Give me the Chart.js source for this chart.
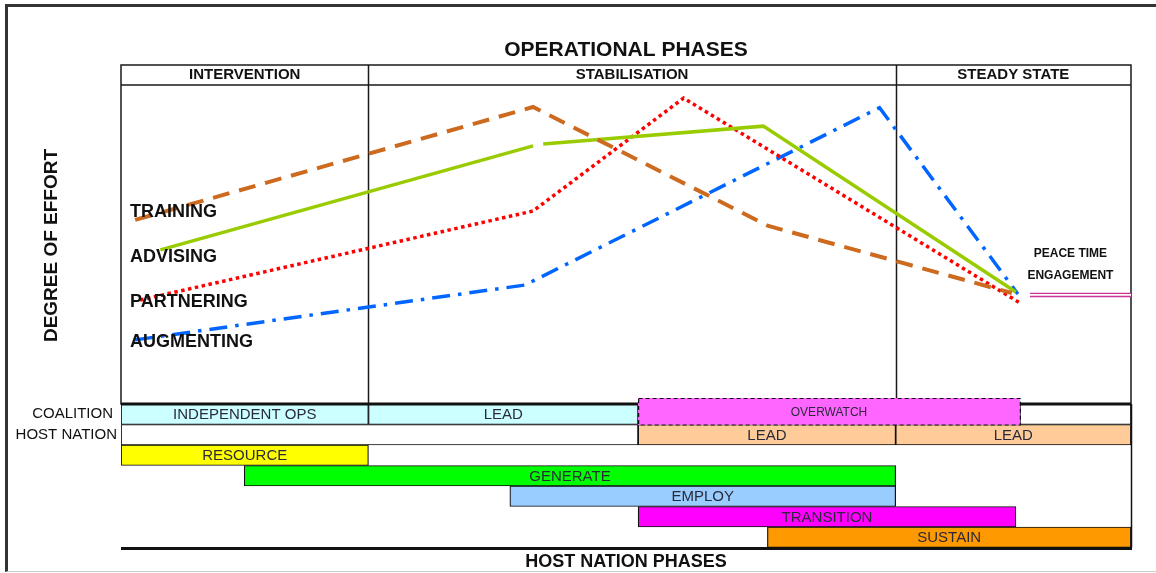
<!DOCTYPE html>
<html>
<head>
<meta charset="utf-8">
<script src="https://cdn.jsdelivr.net/npm/chart.js@4.4.0/dist/chart.umd.min.js"></script>
<style>
  html, body { margin: 0; padding: 0; background: #fff; }
  body { width: 1156px; height: 573px; position: relative; overflow: hidden; }
  #frame { position: absolute; left: 5px; top: 4px; width: 1170px; height: 564px;
           border-left: 3px solid #333; border-top: 3px solid #333; border-bottom: 1px solid #ccc; }
  #effort { position: absolute; left: 0; top: 0; }
  #phases { position: absolute; left: 0; top: 398px; }
</style>
</head>
<body>
<div id="frame"></div>
<canvas id="effort" width="1156" height="410"></canvas>
<canvas id="phases" width="1156" height="175"></canvas>
<script>
// operational phases, x in % of the campaign
const opPhases = ['INTERVENTION', 'STABILISATION', 'STEADY STATE'];
const opBounds = [0, 24.5, 76.7, 100];

// degree of effort (0-100)
const trainingX = [1.4, 40.8, 64.1, 88.2];
const trainingY = [57.7, 93.1, 55.8, 34.8];
const advisingX = [3.9, 40.8, 41.3, 41.8, 63.6, 88.6];
const advisingY = [48.3, 80.9, null, 81.5, 87.1, 35.1];
const partneringX = [1.9, 40.8, 55.7, 89.0];
const partneringY = [32.6, 60.5, 95.9, 31.7];
const augmentingX = [1.4, 40.0, 75.1, 88.8];
const augmentingY = [20.1, 37.3, 92.9, 34.5];
const peaceX = [90, 100];
const peaceY = [34.2, 34.2];

// host nation phases
const rowNames = ['COALITION', 'HOST NATION', 'RESOURCE', 'GENERATE', 'EMPLOY', 'TRANSITION', 'SUSTAIN'];
const barRow   = [0, 0, 0, 0, 1, 1, 1, 2, 3, 4, 5, 6];
const barStart = [0, 24.5, 51.2, 89.0, 0, 51.2, 76.7, 0, 12.2, 38.5, 51.2, 64.0];
const barEnd   = [24.5, 51.2, 89.0, 100, 51.2, 76.7, 100, 24.5, 76.7, 76.7, 88.6, 100];
const barText  = ['INDEPENDENT OPS', 'LEAD', 'OVERWATCH', '', '', 'LEAD', 'LEAD',
                  'RESOURCE', 'GENERATE', 'EMPLOY', 'TRANSITION', 'SUSTAIN'];

const barFill = ['#ccffff', '#ccffff', '#ff66ff', '#ffffff', '#ffffff', '#ffcc99', '#ffcc99',
                 '#ffff00', '#00ff00', '#99ccff', '#ff00ff', '#ff9900'];
const OVERWATCH = 2;
const FONT = '"Liberation Sans", Arial, sans-serif';

function pts(xs, ys) {
    return xs.map((x, i) => ({ x: x, y: ys[i] }));
}

// label spots for the effort lines (data units)
const lineLabelAt = [[0.9, 60.2], [0.9, 46.1], [0.9, 32.0], [0.9, 19.4]];

const effortFrame = {
    id: 'effortFrame',
    beforeDatasetsDraw(chart) {
        const { ctx, chartArea: a, scales: { x } } = chart;
        const headTop = a.top - 20;
        ctx.save();
        ctx.strokeStyle = '#1a1a1a';
        ctx.lineWidth = 1.5;
        ctx.strokeRect(a.left, headTop, a.right - a.left, a.bottom - headTop);
        ctx.beginPath();
        ctx.moveTo(a.left, a.top);
        ctx.lineTo(a.right, a.top);
        opBounds.slice(1, -1).forEach(b => {
            const px = Math.round(x.getPixelForValue(b)) + 0.5;
            ctx.moveTo(px, headTop);
            ctx.lineTo(px, a.bottom);
        });
        ctx.stroke();

        ctx.fillStyle = '#111';
        ctx.textAlign = 'center';
        ctx.textBaseline = 'middle';
        ctx.font = 'bold 21px ' + FONT;
        ctx.fillText('OPERATIONAL PHASES', (a.left + a.right) / 2, headTop - 15);
        ctx.font = 'bold 15px ' + FONT;
        opPhases.forEach((p, i) => {
            const cx = (x.getPixelForValue(opBounds[i]) + x.getPixelForValue(opBounds[i + 1])) / 2;
            ctx.fillText(p, cx, headTop + 10);
        });

        ctx.save();
        ctx.translate(52, (a.top + a.bottom) / 2 + 1);
        ctx.rotate(-Math.PI / 2);
        ctx.font = 'bold 19px ' + FONT;
        ctx.fillText('DEGREE OF EFFORT', 0, 0);
        ctx.restore();
        ctx.restore();
    },
    afterDatasetsDraw(chart) {
        const { ctx, scales: { x, y } } = chart;
        ctx.save();
        ctx.fillStyle = '#111';
        ctx.textBaseline = 'middle';
        ctx.textAlign = 'left';
        ctx.font = 'bold 18px ' + FONT;
        lineLabelAt.forEach((p, i) => {
            ctx.fillText(chart.data.datasets[i].label, x.getPixelForValue(p[0]), y.getPixelForValue(p[1]));
        });
        ctx.textAlign = 'center';
        ctx.font = 'bold 12px ' + FONT;
        ctx.fillText('PEACE TIME', x.getPixelForValue(94), y.getPixelForValue(47.0));
        ctx.fillText('ENGAGEMENT', x.getPixelForValue(94), y.getPixelForValue(40.1));
        ctx.restore();
    }
};

// datasets are painted last-to-first, so the white core comes before the magenta rail
new Chart(document.getElementById('effort'), {
    type: 'line',
    data: {
        datasets: [
            { label: 'TRAINING', data: pts(trainingX, trainingY), borderColor: '#cc6a1f', borderWidth: 4, borderDash: [17, 10] },
            { label: 'ADVISING', data: pts(advisingX, advisingY), borderColor: '#99cc00', borderWidth: 3.5 },
            { label: 'PARTNERING', data: pts(partneringX, partneringY), borderColor: '#ff0000', borderWidth: 3.5, borderDash: [3.5, 3.5] },
            { label: 'AUGMENTING', data: pts(augmentingX, augmentingY), borderColor: '#0066ff', borderWidth: 3.5, borderDash: [18, 8, 3.5, 8] },
            { label: 'PEACE TIME inner', data: pts(peaceX, peaceY), borderColor: '#ffffff', borderWidth: 1.6 },
            { label: 'PEACE TIME', data: pts(peaceX, peaceY), borderColor: '#cc3399', borderWidth: 4.5 }
        ]
    },
    options: {
        responsive: false,
        animation: false,
        spanGaps: false,
        elements: { point: { radius: 0 }, line: { tension: 0, fill: false } },
        layout: { padding: { left: 121, right: 25, top: 85, bottom: 6 } },
        scales: {
            x: { type: 'linear', min: 0, max: 100, display: false },
            y: { type: 'linear', min: 0, max: 100, display: false }
        },
        plugins: { legend: { display: false }, tooltip: { enabled: false } }
    },
    plugins: [effortFrame]
});

const phaseFrame = {
    id: 'phaseFrame',
    afterDatasetsDraw(chart) {
        const { ctx, chartArea: a, scales: { y } } = chart;
        ctx.save();
        ctx.strokeStyle = '#111';
        ctx.lineWidth = 3;
        ctx.beginPath();
        ctx.moveTo(a.left, a.top);
        ctx.lineTo(a.right, a.top);
        ctx.moveTo(a.left, a.bottom + 1);
        ctx.lineTo(a.right + 1, a.bottom + 1);
        ctx.stroke();
        ctx.lineWidth = 1.5;
        ctx.beginPath();
        ctx.moveTo(a.right + 0.5, a.top);
        ctx.lineTo(a.right + 0.5, a.bottom);
        ctx.stroke();

        // overwatch sits over the frame line with a dashed border
        const ow = chart.getDatasetMeta(OVERWATCH).data[barRow[OVERWATCH]];
        const l = Math.min(ow.x, ow.base), r = Math.max(ow.x, ow.base);
        const t = ow.y - ow.height / 2 - 6, b = ow.y + ow.height / 2;
        ctx.fillStyle = barFill[OVERWATCH];
        ctx.fillRect(l, t, r - l, b - t);
        ctx.setLineDash([4, 3]);
        ctx.lineWidth = 1.2;
        ctx.strokeRect(l + 0.5, t + 0.5, r - l, b - t);
        ctx.setLineDash([]);

        ctx.textAlign = 'center';
        ctx.textBaseline = 'middle';
        chart.data.datasets.forEach((ds, i) => {
            if (!barText[i]) return;
            const el = chart.getDatasetMeta(i).data[barRow[i]];
            ctx.fillStyle = '#2a2a3a';
            ctx.font = (i === OVERWATCH ? '12px ' : '15px ') + FONT;
            ctx.fillText(barText[i], (el.x + el.base) / 2, el.y + (i === OVERWATCH ? -2 : 1));
        });

        ctx.fillStyle = '#111';
        ctx.textAlign = 'right';
        ctx.font = '15px ' + FONT;
        ctx.fillText(rowNames[0], a.left - 8, y.getPixelForValue(0));
        ctx.fillText(rowNames[1], a.left - 4, y.getPixelForValue(1));

        ctx.textAlign = 'center';
        ctx.font = 'bold 18px ' + FONT;
        ctx.fillText('HOST NATION PHASES', (a.left + a.right) / 2, a.bottom + 15);
        ctx.restore();
    }
};

new Chart(document.getElementById('phases'), {
    type: 'bar',
    data: {
        labels: rowNames,
        datasets: barRow.map((row, i) => ({
            label: barText[i] || rowNames[row],
            data: rowNames.map((_, r) => r === row ? [barStart[i], barEnd[i]] : null),
            backgroundColor: barFill[i],
            borderColor: '#111',
            borderWidth: i === OVERWATCH ? 0 : 1.2,
            borderSkipped: false,
            grouped: false,
            barPercentage: 1,
            categoryPercentage: 1
        }))
    },
    options: {
        indexAxis: 'y',
        responsive: false,
        animation: false,
        layout: { padding: { left: 121, right: 25, top: 6, bottom: 25.5 } },
        scales: {
            x: { type: 'linear', min: 0, max: 100, display: false },
            y: { type: 'category', display: false }
        },
        plugins: { legend: { display: false }, tooltip: { enabled: false } }
    },
    plugins: [phaseFrame]
});
</script>
</body>
</html>
